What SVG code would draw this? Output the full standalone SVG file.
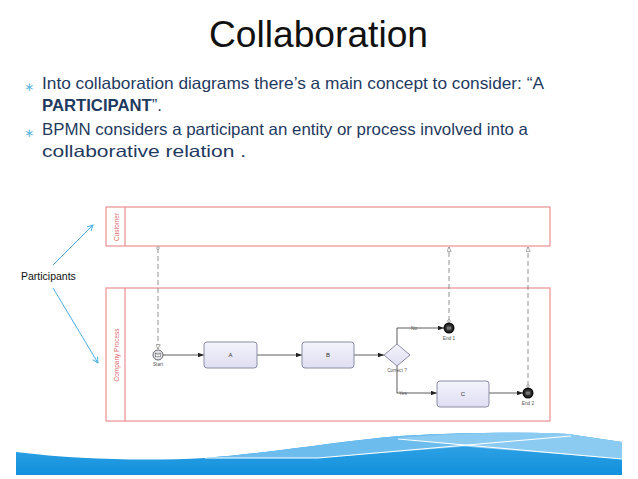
<svg xmlns="http://www.w3.org/2000/svg" width="638" height="479" viewBox="0 0 638 479">
<defs>
<style>
.title{font-family:"Liberation Sans",Arial,sans-serif;font-size:37px;fill:#111}
.body{font-family:"Liberation Sans",Arial,sans-serif;font-size:16.5px;fill:#1f3a60}
.bul{font-family:"DejaVu Sans",sans-serif;font-size:12px;fill:#5ab4dc}
.pool{fill:#fff;stroke:#e87b7b;stroke-width:1}
.plab{font-family:"Liberation Sans",Arial,sans-serif;font-size:6.5px;fill:#e06a6a;text-anchor:middle}
.task{fill:url(#taskG);stroke:#8c8ca4;stroke-width:1}
.tlab{font-family:"Liberation Sans",Arial,sans-serif;font-size:6px;fill:#333;text-anchor:middle}
.slab{font-family:"Liberation Sans",Arial,sans-serif;font-size:4.8px;fill:#555;text-anchor:middle}
.seq{fill:none;stroke:#333;stroke-width:0.8;marker-end:url(#seqA)}
.msg{fill:none;stroke:#777;stroke-width:0.8;stroke-dasharray:5,3}
.part{fill:none;stroke:#45aee2;stroke-width:1;marker-end:url(#partA)}
</style>
<linearGradient id="taskG" x1="0" y1="0" x2="0" y2="1">
<stop offset="0" stop-color="#f4f4fc"/><stop offset="1" stop-color="#dedef2"/>
</linearGradient>
<linearGradient id="waveG" x1="0" y1="0" x2="0" y2="1">
<stop offset="0" stop-color="#3aa8e8"/><stop offset="1" stop-color="#1190dc"/>
</linearGradient>
<marker id="seqA" viewBox="0 0 8 6" refX="8" refY="3" markerWidth="6" markerHeight="4.5" markerUnits="userSpaceOnUse" orient="auto">
<path d="M0,0 L8,3 L0,6 Z" fill="#222"/>
</marker>
<marker id="partA" viewBox="0 0 10 10" refX="9" refY="5" markerWidth="7" markerHeight="7" markerUnits="userSpaceOnUse" orient="auto">
<path d="M1,1 L9,5 L1,9" fill="none" stroke="#45aee2" stroke-width="1.4"/>
</marker>
<marker id="msgA" viewBox="0 0 8 8" refX="7.5" refY="4" markerWidth="5" markerHeight="5" markerUnits="userSpaceOnUse" orient="auto">
<path d="M0.5,0.5 L7.5,4 L0.5,7.5 Z" fill="#fff" stroke="#777" stroke-width="1"/>
</marker>
<marker id="msgO" viewBox="0 0 6 6" refX="3" refY="3" markerWidth="3.5" markerHeight="3.5" markerUnits="userSpaceOnUse" orient="auto">
<circle cx="3" cy="3" r="2.3" fill="#fff" stroke="#777" stroke-width="1"/>
</marker>
</defs>
<rect width="638" height="479" fill="#fff"/>

<g id="title"><text class="title" x="209" y="47" textLength="219" lengthAdjust="spacingAndGlyphs">Collaboration</text></g>

<g id="bullets">
<text class="bul" x="24" y="91">∗</text>
<text class="body" x="42" y="89" textLength="502" lengthAdjust="spacingAndGlyphs">Into collaboration diagrams there’s  a main concept to consider: “A</text>
<text class="body" x="42" y="111" textLength="120" lengthAdjust="spacingAndGlyphs"><tspan font-weight="bold">PARTICIPANT</tspan>”.</text>
<text class="bul" x="24" y="137">∗</text>
<text class="body" x="42" y="135" textLength="486" lengthAdjust="spacingAndGlyphs">BPMN considers a participant an entity or process involved into a</text>
<text class="body" x="42" y="157" textLength="204" lengthAdjust="spacingAndGlyphs">collaborative relation .</text>
</g>

<g id="wave">
<path d="M16,452 C80,460 150,461 205,458 C280,452 340,441 400,436 C470,432 540,432 568,434 L622,442 L622,475 L16,475 Z" fill="url(#waveG)"/>
<path d="M205,458 C280,452 340,441 400,436 C470,432 540,432 571,435 L460,447 L318,458 Z" fill="#6cbdee"/>
<path d="M398,438 C470,432 540,432 568,434 L622,442 L622,459 L470,447 Z" fill="#8ccbf1"/>
<path d="M205,458 L318,458 L571,436" fill="none" stroke="#fff" stroke-width="1"/>
<path d="M398,439 L622,459" fill="none" stroke="#fff" stroke-width="1"/>
</g>

<g id="pool-customer">
<rect class="pool" x="106" y="207" width="444" height="39"/>
<line x1="125" y1="207" x2="125" y2="246" stroke="#e87b7b" stroke-width="1"/>
<text class="plab" transform="translate(118.5,227) rotate(-90)">Customer</text>
</g>

<g id="pool-company">
<rect class="pool" x="106" y="288" width="444" height="133"/>
<line x1="125" y1="288" x2="125" y2="421" stroke="#e87b7b" stroke-width="1"/>
<text class="plab" transform="translate(118.5,355) rotate(-90)">Company Process</text>
</g>

<g id="participants">
<text x="21" y="280" font-family="Liberation Sans, Arial, sans-serif" font-size="10.5" fill="#111">Participants</text>
</g>

<g id="connectors">
<line class="part" x1="53" y1="265" x2="93" y2="225"/>
<line class="part" x1="53" y1="288" x2="98" y2="363"/>
<line class="seq" x1="163" y1="355" x2="204" y2="355"/>
<line class="seq" x1="257" y1="355" x2="302" y2="355"/>
<line class="seq" x1="354" y1="355" x2="384" y2="355"/>
<polyline class="seq" points="397,344 397,328 444,328"/>
<polyline class="seq" points="397,366 397,393 437,393"/>
<line class="seq" x1="489" y1="393" x2="523" y2="393"/>
<line class="msg" x1="158" y1="248" x2="158" y2="349" marker-start="url(#msgO)" marker-end="url(#msgA)"/>
<line class="msg" x1="449" y1="321" x2="449" y2="247" marker-start="url(#msgO)" marker-end="url(#msgA)"/>
<line class="msg" x1="528" y1="386" x2="528" y2="247" marker-start="url(#msgO)" marker-end="url(#msgA)"/>
<text class="slab" x="414" y="329.5">No</text>
<text class="slab" x="403" y="394.5">Yes</text>
</g>

<g id="start">
<circle cx="158" cy="355" r="5" fill="#e4e4ee" stroke="#666" stroke-width="1"/>
<rect x="155.5" y="353.2" width="5" height="3.6" fill="#fff" stroke="#555" stroke-width="0.5"/>
<path d="M155.5,353.2 L158,355.3 L160.5,353.2" fill="none" stroke="#555" stroke-width="0.5"/>
<text class="slab" x="158" y="366">Start</text>
</g>

<g id="task-a"><rect class="task" x="204" y="342" width="53" height="26" rx="3"/><text class="tlab" x="230.5" y="357">A</text></g>
<g id="task-b"><rect class="task" x="302" y="342" width="52" height="26" rx="3"/><text class="tlab" x="328" y="357">B</text></g>

<g id="gateway">
<path d="M397,344 L410,355 L397,366 L384,355 Z" fill="url(#taskG)" stroke="#8c8ca4" stroke-width="1"/>
<text class="slab" x="397" y="372">Correct ?</text>
</g>

<g id="end1">
<circle cx="449" cy="328" r="4.6" fill="#333" stroke="#111" stroke-width="1.8"/>
<rect x="446.8" y="326.6" width="4.4" height="3" fill="#777"/>
<text class="slab" x="449" y="340">End 1</text>
</g>

<g id="task-c"><rect class="task" x="437" y="381" width="52" height="26" rx="3"/><text class="tlab" x="463" y="396">C</text></g>

<g id="end2">
<circle cx="528" cy="393" r="4.6" fill="#333" stroke="#111" stroke-width="1.8"/>
<rect x="525.8" y="391.6" width="4.4" height="3" fill="#777"/>
<text class="slab" x="528" y="405">End 2</text>
</g>
</svg>
